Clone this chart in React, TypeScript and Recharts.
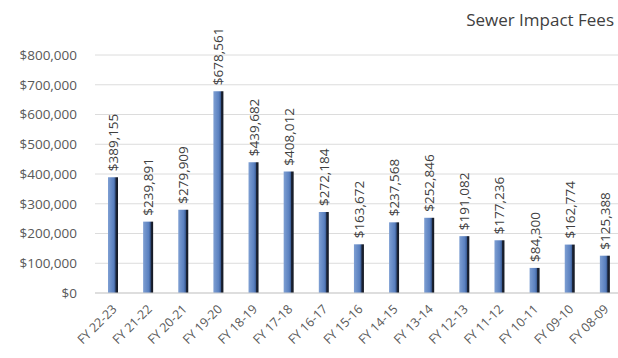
import React from "react";
import { BarChart, Bar, XAxis, YAxis, CartesianGrid, LabelList } from "recharts";

// Fiscal years, newest first
const fiscalYears = [
  "FY 22-23", "FY 21-22", "FY 20-21", "FY 19-20", "FY 18-19",
  "FY 17-18", "FY 16-17", "FY 15-16", "FY 14-15", "FY 13-14",
  "FY 12-13", "FY 11-12", "FY 10-11", "FY 09-10", "FY 08-09",
];

// Sewer impact fees collected per fiscal year (USD)
const feeAmounts = [
  389155, 239891, 279909, 678561, 439682,
  408012, 272184, 163672, 237568, 252846,
  191082, 177236, 84300, 162774, 125388,
];

const yTicks = [0, 100000, 200000, 300000, 400000, 500000, 600000, 700000, 800000];

const chartData = fiscalYears.map((fy, i) => ({ fy, fee: feeAmounts[i] }));

const FONT = "'Open Sans', sans-serif";
const TEXT = "#595959";

const money = (v: number) => `$${v.toLocaleString("en-US")}`;

const ValueLabel = (props: any) => {
  const { x, y, width, value } = props;
  const cx = x + width / 2;
  const ty = y - 6;
  return (
    <text
      x={cx}
      y={ty}
      transform={`rotate(-90, ${cx}, ${ty})`}
      textAnchor="start"
      dominantBaseline="central"
      fontFamily={FONT}
      fontSize={13.5}
      fill="#404040"
    >
      {money(value)}
    </text>
  );
};

const YearTick = (props: any) => {
  const { x, y, payload } = props;
  return (
    <g transform={`translate(${x + 5},${y + 9})`}>
      <text
        x={0}
        y={0}
        textAnchor="end"
        transform="rotate(-45)"
        fontFamily={FONT}
        fontSize={12.5}
        fill={TEXT}
      >
        {payload.value}
      </text>
    </g>
  );
};

export default function App() {
  return (
    <div
      style={{
        position: "absolute",
        left: 0,
        top: 0,
        width: 618,
        height: 358,
        overflow: "hidden",
        background: "#ffffff",
      }}
    >
      <svg width={0} height={0} style={{ position: "absolute" }}>
        <defs>
          <linearGradient id="barShade" x1="0" y1="0" x2="1" y2="0">
            <stop offset="0%" stopColor="#7e9fd3" />
            <stop offset="55%" stopColor="#5a80bf" />
            <stop offset="72%" stopColor="#3d5f98" />
            <stop offset="78%" stopColor="#1b2438" />
            <stop offset="100%" stopColor="#141820" />
          </linearGradient>
        </defs>
      </svg>
      <div
        style={{
          position: "absolute",
          right: 4,
          top: 8,
          fontFamily: FONT,
          fontSize: 17,
          color: "#404040",
          whiteSpace: "nowrap",
        }}
      >
        Sewer Impact Fees
      </div>
      <BarChart
        width={626}
        height={358}
        data={chartData}
        margin={{ top: 55, right: 4, bottom: 0, left: 0 }}
        barCategoryGap={0}
      >
        <CartesianGrid vertical={false} stroke="#dcdcdc" />
        <XAxis
          dataKey="fy"
          height={65}
          interval={0}
          tickLine={false}
          axisLine={{ stroke: "#cfcfcf" }}
          tick={<YearTick />}
        />
        <YAxis
          width={95}
          domain={[0, 800000]}
          ticks={yTicks}
          tickFormatter={money}
          axisLine={false}
          tickLine={false}
          tickSize={0}
          tickMargin={18}
          tick={{ fontFamily: FONT, fontSize: 13.5, fill: TEXT }}
        />
        <Bar dataKey="fee" barSize={10} fill="url(#barShade)" isAnimationActive={false}>
          <LabelList dataKey="fee" content={<ValueLabel />} />
        </Bar>
      </BarChart>
    </div>
  );
}
